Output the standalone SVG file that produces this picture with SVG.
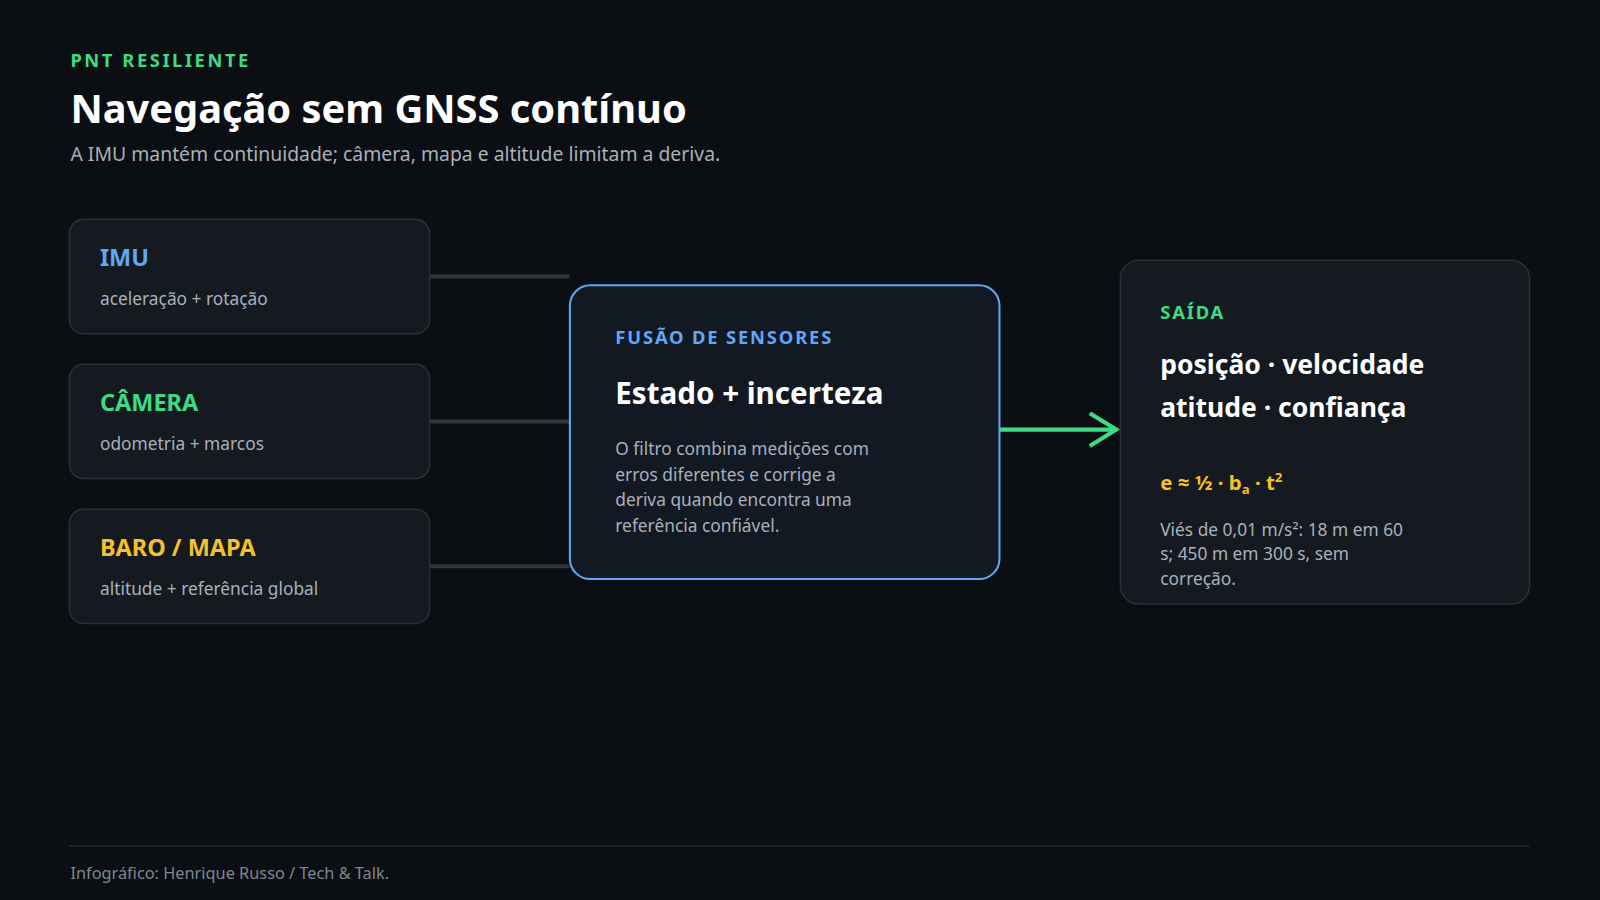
<svg xmlns="http://www.w3.org/2000/svg" width="1600" height="900" viewBox="0 0 1600 900">
<style>
text{font-family:"Noto Sans","Open Sans",sans-serif}
.card{fill:#151a21;stroke:#2a3038;stroke-width:1.5}
.lbl{font-size:23px;font-weight:700}
.sub{font-size:17px;fill:#a9b0ba}
.conn{stroke:#2e343c;stroke-width:4;fill:none}
</style>
<rect width="1600" height="900" fill="#0b0e12"/>
<g transform="scale(1.020408)">
<text x="69" y="66" font-size="18" font-weight="700" fill="#3ddc84" letter-spacing="2.5">PNT RESILIENTE</text>
<text x="69" y="121" font-size="39" font-weight="700" fill="#ffffff">Navegação sem GNSS contínuo</text>
<text x="69" y="158" font-size="19" fill="#a9b0ba">A IMU mantém continuidade; câmera, mapa e altitude limitam a deriva.</text>
<g id="connectors">
<line class="conn" x1="421" y1="271" x2="558" y2="271"/>
<line class="conn" x1="421" y1="413" x2="558" y2="413"/>
<line class="conn" x1="421" y1="555" x2="558" y2="555"/>
<line x1="980" y1="421" x2="1092" y2="421" stroke="#3ddc84" stroke-width="4"/>
<polyline points="1068,405 1094,421 1068,437" fill="none" stroke="#3ddc84" stroke-width="4" stroke-linejoin="miter"/>
</g>
<g id="imu"><rect class="card" x="68" y="215" width="353" height="112" rx="14"/>
<text class="lbl" x="98" y="261" fill="#5ea8f5">IMU</text><text class="sub" x="98" y="299">aceleração + rotação</text></g>
<g id="camera"><rect class="card" x="68" y="357" width="353" height="112" rx="14"/>
<text class="lbl" x="98" y="403" fill="#3ddc84">CÂMERA</text><text class="sub" x="98" y="441">odometria + marcos</text></g>
<g id="baro"><rect class="card" x="68" y="499" width="353" height="112" rx="14"/>
<text class="lbl" x="98" y="545" fill="#f5c02a">BARO / MAPA</text><text class="sub" x="98" y="583">altitude + referência global</text></g>
<g id="fusao"><rect x="558.5" y="279.5" width="421" height="288" rx="20" fill="#121923" stroke="#5ea8f5" stroke-width="2"/>
<text x="603" y="337" font-size="18" font-weight="700" fill="#5ea8f5" letter-spacing="1.8">FUSÃO DE SENSORES</text>
<text x="603" y="396" font-size="29" font-weight="700" fill="#ffffff">Estado + incerteza</text>
<text class="sub" font-size="18"><tspan x="603" y="446">O filtro combina medições com</tspan><tspan x="603" y="471">erros diferentes e corrige a</tspan><tspan x="603" y="496">deriva quando encontra uma</tspan><tspan x="603" y="521">referência confiável.</tspan></text></g>
<g id="saida"><rect class="card" x="1098" y="255" width="401" height="337" rx="18"/>
<text x="1137" y="313" font-size="18" font-weight="700" fill="#3ddc84" letter-spacing="1.8">SAÍDA</text>
<text font-size="26" font-weight="700" fill="#ffffff"><tspan x="1137" y="367">posição · velocidade</tspan><tspan x="1137" y="409">atitude · confiança</tspan></text>
<text x="1137" y="480" font-size="20" font-weight="700" fill="#f5c02a">e ≈ ½ · b<tspan font-size="13" dy="4">a</tspan><tspan dy="-4"> · t</tspan><tspan font-size="13" dy="-8">2</tspan></text>
<text class="sub"><tspan x="1137" y="525">Viés de 0,01 m/s²: 18 m em 60</tspan><tspan x="1137" y="549">s; 450 m em 300 s, sem</tspan><tspan x="1137" y="573">correção.</tspan></text></g>
<line x1="68" y1="829" x2="1499" y2="829" stroke="#252a31" stroke-width="1.5"/>
<text x="69" y="861" font-size="16" fill="#7f8791">Infográfico: Henrique Russo / Tech &amp; Talk.</text>
</g>
</svg>
